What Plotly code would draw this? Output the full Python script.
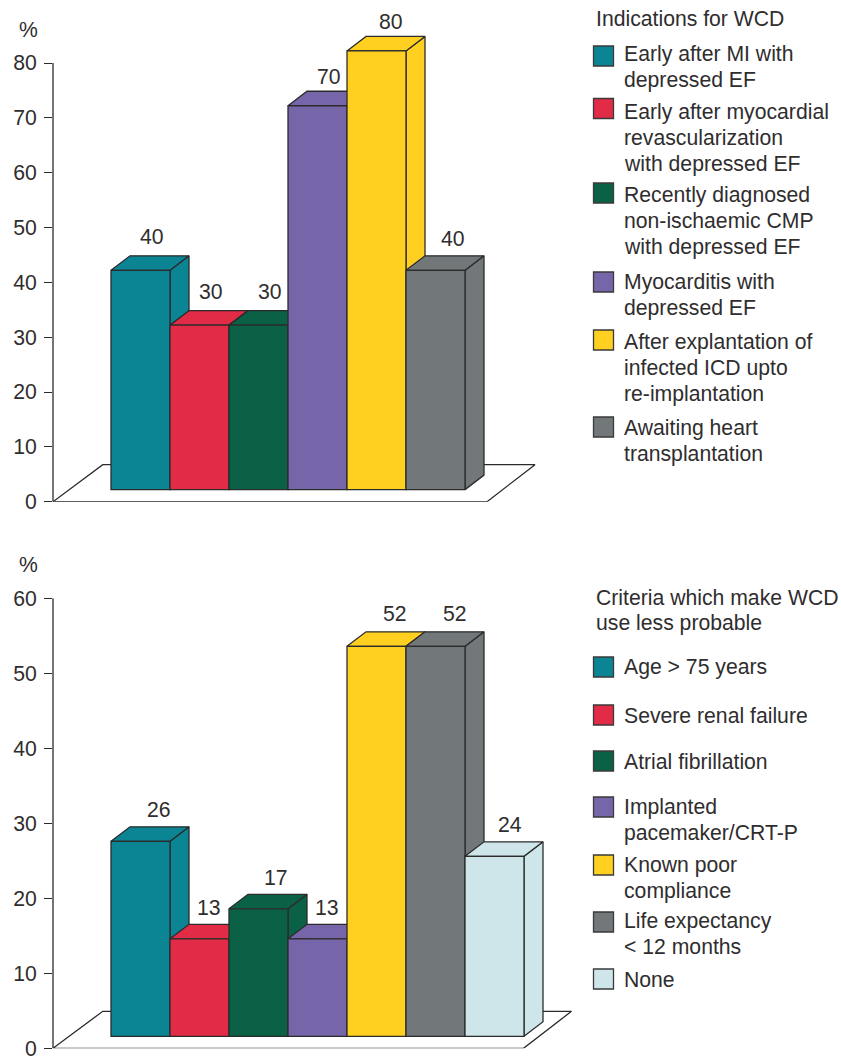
import plotly.graph_objects as go

# Survey results, percent of respondents
indication_labels = [
    "Early after MI with<br>depressed EF",
    "Early after myocardial<br>revascularization<br>with depressed EF",
    "Recently diagnosed<br>non-ischaemic CMP<br>with depressed EF",
    "Myocarditis with<br>depressed EF",
    "After explantation of<br>infected ICD upto<br>re-implantation",
    "Awaiting heart<br>transplantation",
]
indication_values = [40, 30, 30, 70, 80, 40]

criteria_labels = [
    "Age &gt; 75 years",
    "Severe renal failure",
    "Atrial fibrillation",
    "Implanted<br>pacemaker/CRT-P",
    "Known poor<br>compliance",
    "Life expectancy<br>&lt; 12 months",
    "None",
]
criteria_values = [26, 13, 17, 13, 52, 52, 24]

indication_ticks = [0, 10, 20, 30, 40, 50, 60, 70, 80]
criteria_ticks = [0, 10, 20, 30, 40, 50, 60]

palette = ["#0B8494", "#E22B47", "#0B6145", "#7765A9", "#FFD01F", "#72787A", "#CEE6EA"]

# Page geometry
W, H = 841, 1056
FONT = "Liberation Sans, Arial, sans-serif"
TEXT = "#2F2D2E"
EDGE = "#2B2B2B"
FS = 21.2
LINE_PX = 25.8
AXIS_LEFT, AXIS_RIGHT = 53, 580
BAR_PX = 59.0
FIRST_CENTRE = 140.5
DEPTH_X_PX, DEPTH_Y_PX = 19.0, 14.5
FLOOR_DEPTH_PX = 37.0
FLOOR_SHIFT_PX = 48.0


def to_x(px):
    return (px - FIRST_CENTRE) / BAR_PX


def add_chart(fig, values, labels, ticks, row, y0_px, ytop_px, headroom, lift,
              floor_right_px, nudges, pct_y):
    xa, ya = ("x", "y") if row == 1 else ("x2", "y2")
    top_value = ticks[-1]
    unit_px = (y0_px - ytop_px) / top_value
    dx = DEPTH_X_PX / BAR_PX
    dy = DEPTH_Y_PX / unit_px

    # Ground plane under the columns
    fl_dx = FLOOR_SHIFT_PX / BAR_PX
    fl_dy = FLOOR_DEPTH_PX / unit_px
    fl_l, fl_r = to_x(AXIS_LEFT), to_x(floor_right_px)
    fig.add_trace(go.Scatter(
        x=[fl_l, fl_r, fl_r + fl_dx, fl_l + fl_dx + 0.03, fl_l],
        y=[0, 0, fl_dy, fl_dy, 0],
        mode="lines", fill="toself", fillcolor="#FFFFFF",
        line=dict(color=EDGE, width=1.3),
        xaxis=xa, yaxis=ya, showlegend=False, hoverinfo="skip", zorder=0,
    ))

    # Columns, painted left to right: side and top faces, then the front bar
    for i, (v, lab) in enumerate(zip(values, labels)):
        name = lab.replace("<br>", " ")
        left, right = i - 0.5, i + 0.5
        low, high = lift, v + lift
        colour = palette[i]
        base_z = 1 + 3 * i
        fig.add_trace(go.Scatter(
            x=[right, right + dx, right + dx, right, right],
            y=[low, low + dy, high + dy, high, low],
            mode="lines", fill="toself", fillcolor=colour,
            line=dict(color=EDGE, width=1.3),
            xaxis=xa, yaxis=ya, showlegend=False, hoverinfo="skip", zorder=base_z,
        ))
        fig.add_trace(go.Scatter(
            x=[left, right, right + dx, left + dx, left],
            y=[high, high, high + dy, high + dy, high],
            mode="lines", fill="toself", fillcolor=colour,
            line=dict(color=EDGE, width=1.3),
            xaxis=xa, yaxis=ya, showlegend=False, hoverinfo="skip", zorder=base_z + 1,
        ))
        fig.add_trace(go.Bar(
            x=[i], y=[v], base=lift, width=1.0, name=name,
            marker=dict(color=colour, line=dict(color=EDGE, width=1.3)),
            xaxis=xa, yaxis=ya, showlegend=False, zorder=base_z + 2,
        ))
        fig.add_annotation(
            x=i + dx / 2, y=high + dy, xref=xa, yref=ya, text=str(v), showarrow=False,
            xanchor="center", yanchor="middle",
            xshift=nudges[i][0], yshift=nudges[i][1],
            font=dict(family=FONT, size=FS, color=TEXT),
        )

    fig.add_annotation(
        x=28 / W, y=1 - pct_y / H, xref="paper", yref="paper", text="%", showarrow=False,
        xanchor="center", yanchor="middle", font=dict(family=FONT, size=FS, color=TEXT),
    )

    # The plotting area runs above the last tick so tall columns stay visible;
    # the axis line itself stops at the last tick.
    range_top = top_value + headroom
    fig.update_layout({("yaxis" if row == 1 else "yaxis2"): dict(
        range=[0, range_top], tickvals=ticks, ticks="outside", ticklen=8, tickwidth=1.3,
        tickcolor=EDGE, showline=False, showgrid=False, zeroline=False,
        automargin=False, ticklabelstandoff=3, ticklabeloverflow="allow",
        tickfont=dict(family=FONT, size=FS, color=TEXT),
        domain=[1 - y0_px / H, 1 - (y0_px - range_top * unit_px) / H],
    )})
    fig.update_layout({("xaxis" if row == 1 else "xaxis2"): dict(
        range=[to_x(AXIS_LEFT), to_x(AXIS_RIGHT)], visible=False, automargin=False,
        domain=[AXIS_LEFT / W, AXIS_RIGHT / W],
    )})
    fig.add_shape(
        type="line", xref="paper", yref=ya, x0=AXIS_LEFT / W, x1=AXIS_LEFT / W,
        y0=0, y1=top_value, line=dict(color=EDGE, width=1.3),
    )


def add_text_block(fig, text, x_px, first_y):
    for k, part in enumerate(text.split("<br>")):
        fig.add_annotation(
            x=x_px / W, y=1 - (first_y + k * LINE_PX) / H, xref="paper", yref="paper",
            text=part, showarrow=False, xanchor="left", yanchor="middle", align="left",
            xshift=-2, font=dict(family=FONT, size=FS, color=TEXT),
        )


def add_key(fig, title, title_y, labels, text_ys, swatch_ys):
    add_text_block(fig, title, 596, title_y)
    for i, (lab, ty, sy) in enumerate(zip(labels, text_ys, swatch_ys)):
        fig.add_shape(
            type="rect", xref="paper", yref="paper",
            x0=593.5 / W, x1=613.5 / W, y0=1 - (sy - 10) / H, y1=1 - (sy + 10) / H,
            fillcolor=palette[i], line=dict(color="#3A3A3A", width=1.3),
        )
        add_text_block(fig, lab, 624, ty)


fig = go.Figure()

add_chart(
    fig, indication_values, indication_labels, indication_ticks, 1,
    y0_px=501.7, ytop_px=63.0, headroom=10, lift=2.2, floor_right_px=487,
    nudges=[(2, 19), (2, 19), (2, 19), (2, 15), (5, 15), (8, 17)], pct_y=29,
)
add_chart(
    fig, criteria_values, criteria_labels, criteria_ticks, 2,
    y0_px=1048.3, ytop_px=598.3, headroom=0, lift=1.6, floor_right_px=523.5,
    nudges=[(9, 17), (0, 17), (8, 17), (0, 17), (9, 18), (10, 18), (6, 17)], pct_y=564,
)

add_key(fig, "Indications for WCD", 18, indication_labels,
        [54, 112, 195, 282, 342, 428], [56, 108.5, 193, 282, 340, 427])
add_key(fig, "Criteria which make WCD<br>use less probable", 597, criteria_labels,
        [667, 715, 761, 807, 865, 921, 979], [667, 715, 761, 807, 865, 922, 979])

fig.update_layout(
    width=W, height=H, autosize=False,
    margin=dict(l=0, r=0, t=0, b=0, pad=0),
    paper_bgcolor="#FFFFFF", plot_bgcolor="rgba(0,0,0,0)",
    showlegend=False, barmode="overlay",
)

fig.write_html("out.html", config=dict(displayModeBar=False))
